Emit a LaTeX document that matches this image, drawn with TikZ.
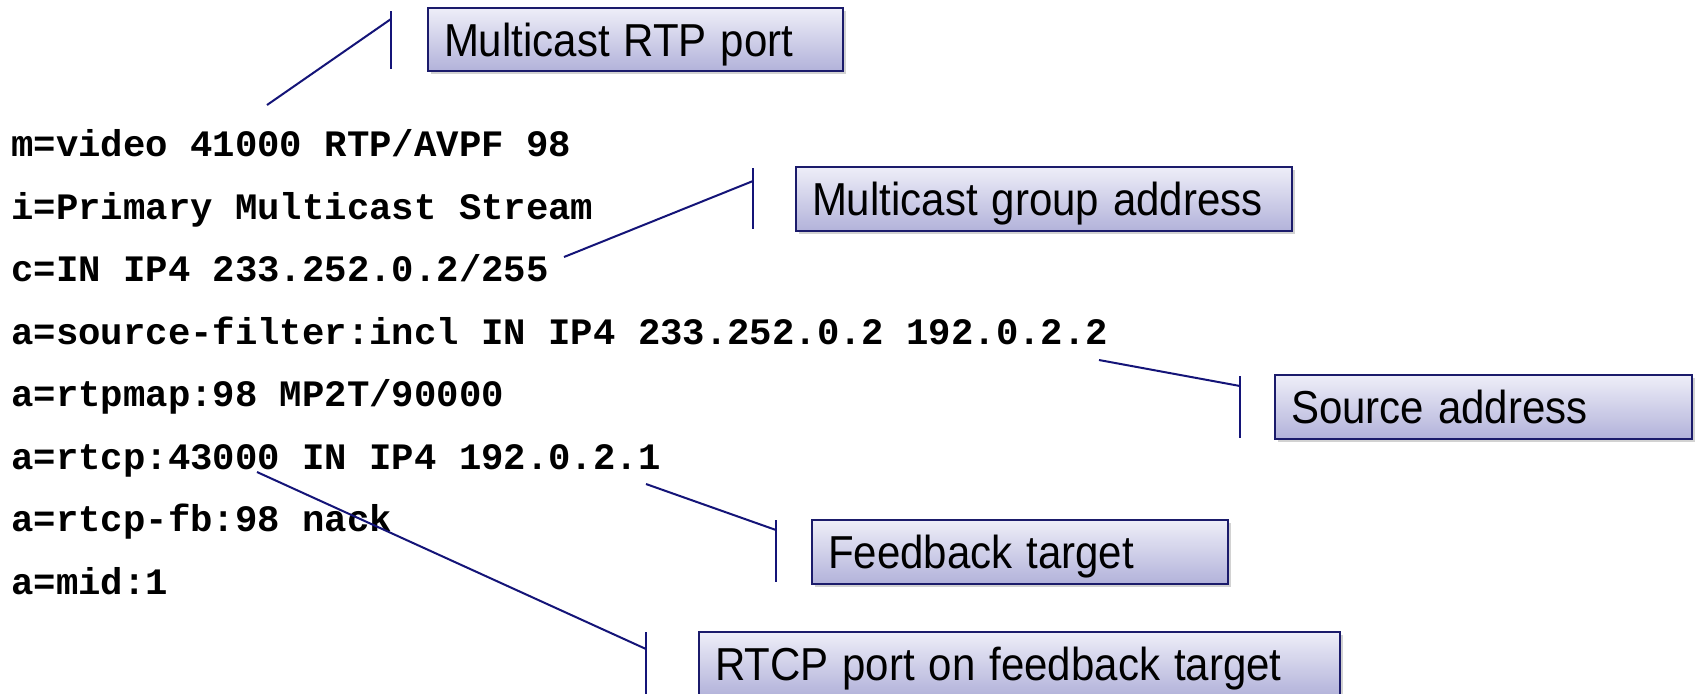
\documentclass[tikz,border=0pt]{standalone}
\usepackage{fontspec}
\setmainfont{Liberation Sans}
\newfontfamily\codefont{Liberation Mono}
\usetikzlibrary{shadows}
\definecolor{boxborder}{RGB}{27,27,107}
\definecolor{boxtop}{RGB}{238,238,248}
\definecolor{boxbottom}{RGB}{178,178,218}
\definecolor{callout}{RGB}{20,20,120}
\newcommand{\labtext}[1]{\scalebox{1}[1.1]{#1}}
\tikzset{
  labelbox/.style={draw=boxborder, line width=1pt, top color=boxtop, bottom color=boxbottom,
    drop shadow={shadow xshift=1.5pt, shadow yshift=-1.5pt, opacity=0.35},
    anchor=north west, minimum height=32pt, inner xsep=8pt, inner ysep=0pt,
    text height=16.5pt, text depth=0pt, align=left,
    font=\fontsize{21}{25}\selectfont},
  codeline/.style={anchor=base west, inner sep=0pt, font=\codefont\bfseries\fontsize{18.65}{22}\selectfont},
  calloutline/.style={draw=callout, line width=1pt}
}
\begin{document}
\begin{tikzpicture}[x=0.5pt,y=-0.5pt]
\clip (0,0) rectangle (1695,693);
\fill[white] (0,0) rectangle (1695,693);

% code lines
\node[codeline] (l1) at (11,156.5) {m=video 41000 RTP/AVPF 98};
\node[codeline] (l2) at (11,219) {i=Primary Multicast Stream};
\node[codeline] (l3) at (11,281.5) {c=IN IP4 233.252.0.2/255};
\node[codeline] (l4) at (11,344) {a=source-filter:incl IN IP4 233.252.0.2 192.0.2.2};
\node[codeline] (l5) at (11,406.5) {a=rtpmap:98 MP2T/90000};
\node[codeline] (l6) at (11,469) {a=rtcp:43000 IN IP4 192.0.2.1};
\node[codeline] (l7) at (11,531.5) {a=rtcp-fb:98 nack};
\node[codeline] (l8) at (11,594) {a=mid:1};

% label boxes
\node[labelbox, minimum height=31.5pt, text width=191.5pt] (b1) at (427,7) {\labtext{Multicast RTP port}};
\node[labelbox, text width=232pt] (b2) at (795,166) {\labtext{Multicast group address}};
\node[labelbox, text width=192.5pt] (b3) at (1274,374) {\labtext{Source address}};
\node[labelbox, text width=192pt] (b4) at (811,519) {\labtext{Feedback target}};
\node[labelbox, text width=304.5pt] (b5) at (698,631) {\labtext{RTCP port on feedback target}};

% callout coordinates
\coordinate (t1a) at (391,11);  \coordinate (t1b) at (391,69);
\coordinate (t1j) at (391,19);  \coordinate (s1) at (267,105);
\coordinate (t2a) at (753,168); \coordinate (t2b) at (753,229);
\coordinate (t2j) at (753,181); \coordinate (s2) at (564,257);
\coordinate (t3a) at (1240,376); \coordinate (t3b) at (1240,438);
\coordinate (t3j) at (1240,386); \coordinate (s3) at (1099,360);
\coordinate (t4a) at (776,520); \coordinate (t4b) at (776,582);
\coordinate (t4j) at (776,530); \coordinate (s4) at (646,484);
\coordinate (t5a) at (646,632); \coordinate (t5b) at (646,700);
\coordinate (t5j) at (646,649); \coordinate (s5) at (257,472);

\draw[calloutline] (t1a) -- (t1b);
\draw[calloutline] (s1) -- (t1j);
\draw[calloutline] (t2a) -- (t2b);
\draw[calloutline] (s2) -- (t2j);
\draw[calloutline] (t3a) -- (t3b);
\draw[calloutline] (s3) -- (t3j);
\draw[calloutline] (t4a) -- (t4b);
\draw[calloutline] (s4) -- (t4j);
\draw[calloutline] (t5a) -- (t5b);
\draw[calloutline] (s5) -- (t5j);
\end{tikzpicture}
\end{document}
